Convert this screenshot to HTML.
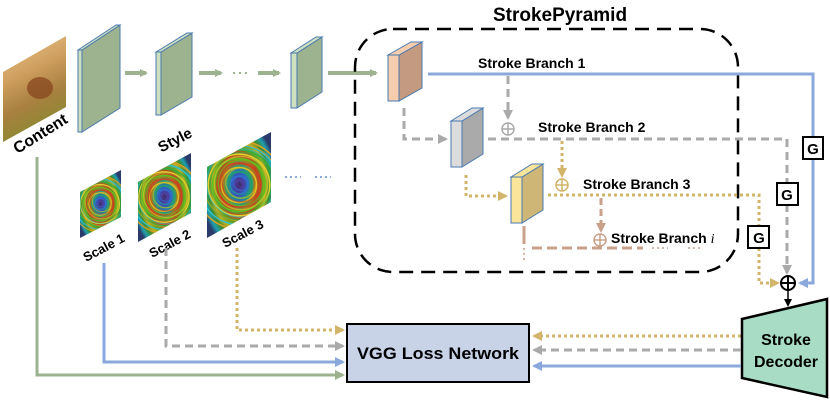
<!DOCTYPE html>
<html><head><meta charset="utf-8"><style>
html,body{margin:0;padding:0;background:#fff;}
svg{display:block;font-family:"Liberation Sans",Arial,sans-serif;font-weight:bold;}
</style></head><body>
<svg width="830" height="400" viewBox="0 0 830 400" xmlns="http://www.w3.org/2000/svg">
<defs>
<radialGradient id="sty" cx="50%" cy="50%" r="60%">
<stop offset="0" stop-color="#3a2a5a"/><stop offset="0.1" stop-color="#4a3a9a"/><stop offset="0.2" stop-color="#3060c0"/>
<stop offset="0.3" stop-color="#2a9a7a"/><stop offset="0.4" stop-color="#a08020"/><stop offset="0.5" stop-color="#c04a20"/>
<stop offset="0.6" stop-color="#60a020"/><stop offset="0.7" stop-color="#c0b020"/><stop offset="0.8" stop-color="#3a8a30"/>
<stop offset="0.9" stop-color="#20a0b0"/><stop offset="1" stop-color="#2a3a6a"/>
</radialGradient>
<linearGradient id="sq" x1="0" y1="0" x2="0.3" y2="1">
<stop offset="0" stop-color="#e8c890"/><stop offset="0.4" stop-color="#d0a060"/><stop offset="0.7" stop-color="#a88040"/><stop offset="1" stop-color="#8a8a30"/>
</linearGradient>
<clipPath id="c1"><polygon points="80,192 121,170 121,217 80,238"/></clipPath>
<clipPath id="c2"><polygon points="138,182 191,153 191,213 138,242"/></clipPath>
<clipPath id="c3"><polygon points="207,167 271,132 271,202 207,238"/></clipPath>
<g id="rings" fill="none" stroke-width="1.4">
<circle r="4" stroke="#5040a0"/><circle r="8" stroke="#3070d0"/><circle r="12" stroke="#20a070"/>
<circle r="16" stroke="#e0c020"/><circle r="20" stroke="#d04020"/><circle r="24" stroke="#60c020"/>
<circle r="28" stroke="#e0d030"/><circle r="32" stroke="#30b040"/><circle r="36" stroke="#30c0d0"/><circle r="40" stroke="#e0a020"/>
</g>
<marker id="ag" markerWidth="8" markerHeight="8" refX="6" refY="4" orient="auto" markerUnits="userSpaceOnUse"><path d="M0,0 L8,4 L0,8z" fill="#9db38f"/></marker>
<marker id="ab" markerWidth="10" markerHeight="10" refX="8" refY="5" orient="auto" markerUnits="userSpaceOnUse"><path d="M0,0 L10,5 L0,10z" fill="#8aa8dc"/></marker>
<marker id="agr" markerWidth="10" markerHeight="10" refX="8" refY="5" orient="auto" markerUnits="userSpaceOnUse"><path d="M0,0 L10,5 L0,10z" fill="#aaa"/></marker>
<marker id="ay" markerWidth="10" markerHeight="10" refX="8" refY="5" orient="auto" markerUnits="userSpaceOnUse"><path d="M0,0 L10,5 L0,10z" fill="#d2b46a"/></marker>
<marker id="abr" markerWidth="10" markerHeight="10" refX="8" refY="5" orient="auto" markerUnits="userSpaceOnUse"><path d="M0,0 L10,5 L0,10z" fill="#c9a08a"/></marker>
<marker id="agn" markerWidth="10" markerHeight="10" refX="8" refY="5" orient="auto" markerUnits="userSpaceOnUse"><path d="M0,0 L10,5 L0,10z" fill="#9db38f"/></marker>
<marker id="ak" markerWidth="8" markerHeight="8" refX="6" refY="4" orient="auto" markerUnits="userSpaceOnUse"><path d="M0,0 L8,4 L0,8z" fill="#000"/></marker>
</defs>

<polygon points="3,72 66,36 66,107 3,142" fill="url(#sq)"/>
<ellipse cx="40" cy="88" rx="13" ry="11" fill="#8a4a20" opacity="0.8"/>
<text x="40" y="139" font-size="16" text-anchor="middle" transform="rotate(-32 40 133)">Content</text>

<g stroke="#4a7ab0" stroke-width="1">
<polygon points="78,50 82,50 82,132 78,132" fill="#cde0c0"/>
<polygon points="82,50 120,25 120,108 82,132" fill="#9db38f"/>
<polygon points="78,50 116,25 120,25 82,50" fill="#cde0c0"/>
<polygon points="156,52 161,52 161,115 156,115" fill="#cde0c0"/>
<polygon points="161,52 192,33 192,97 161,115" fill="#9db38f"/>
<polygon points="156,52 187,33 192,33 161,52" fill="#cde0c0"/>
<polygon points="291,53 297,53 297,108 291,108" fill="#cde0c0"/>
<polygon points="297,53 322,37 322,92 297,108" fill="#9db38f"/>
<polygon points="291,53 316,37 322,37 297,53" fill="#cde0c0"/>
</g>
<g stroke="#9db38f" stroke-width="4" fill="none">
<line x1="125" y1="73" x2="146" y2="73" marker-end="url(#ag)"/>
<line x1="199" y1="73" x2="221" y2="73" marker-end="url(#ag)"/>
<line x1="258" y1="73" x2="279" y2="73" marker-end="url(#ag)"/>
<line x1="328" y1="73" x2="376" y2="73" marker-end="url(#ag)"/>
<line x1="233" y1="73" x2="248" y2="73" stroke-width="2" stroke-dasharray="2,4"/>
</g>

<polygon points="80,192 121,170 121,217 80,238" fill="url(#sty)"/>
<g clip-path="url(#c1)"><use href="#rings" transform="translate(100,204) scale(0.7)"/><use href="#rings" transform="translate(102,202) scale(0.6)" opacity="0.6"/></g>
<polygon points="138,182 191,153 191,213 138,242" fill="url(#sty)"/>
<g clip-path="url(#c2)"><use href="#rings" transform="translate(164,197) scale(0.9)"/><use href="#rings" transform="translate(166,195) scale(0.8)" opacity="0.6"/></g>
<polygon points="207,167 271,132 271,202 207,238" fill="url(#sty)"/>
<g clip-path="url(#c3)"><use href="#rings" transform="translate(239,185) scale(1.1)"/><use href="#rings" transform="translate(241,183) scale(0.95)" opacity="0.6"/></g>
<text x="175" y="145" font-size="15" text-anchor="middle" transform="rotate(-27 175 140)">Style</text>
<text x="104" y="252" font-size="13" text-anchor="middle" transform="rotate(-28 104 248)">Scale 1</text>
<text x="170" y="248" font-size="13" text-anchor="middle" transform="rotate(-28 170 244)">Scale 2</text>
<text x="243" y="238" font-size="13" text-anchor="middle" transform="rotate(-28 243 234)">Scale 3</text>
<g stroke="#8aa8dc" stroke-width="2" stroke-dasharray="2,3"><line x1="285" y1="177" x2="301" y2="177"/><line x1="315" y1="177" x2="331" y2="177"/></g>

<rect x="355" y="29" width="383" height="243" rx="38" fill="none" stroke="#000" stroke-width="2.5" stroke-dasharray="14,8"/>
<text x="560" y="21" font-size="19" text-anchor="middle">StrokePyramid</text>

<g stroke="#4a7ab0" stroke-width="1">
<polygon points="388,55 399,55 399,101 388,101" fill="#f7cdb0"/>
<polygon points="399,55 422,42 422,88 399,101" fill="#c49a80"/>
<polygon points="388,55 411,42 422,42 399,55" fill="#f7cdb0"/>
<polygon points="451,121 462,121 462,167 451,167" fill="#dcdcdc"/>
<polygon points="462,121 483,108 483,154 462,167" fill="#aaaaaa"/>
<polygon points="451,121 472,108 483,108 462,121" fill="#dcdcdc"/>
<polygon points="511,177 522,177 522,223 511,223" fill="#fbe59a"/>
<polygon points="522,177 543,164 543,210 522,223" fill="#cdb676"/>
<polygon points="511,177 532,164 543,164 522,177" fill="#fbe59a"/>
</g>

<polyline points="428,74 813,74 813,283 800,283" fill="none" stroke="#8aa8dc" stroke-width="3" marker-end="url(#ab)"/>
<text x="478" y="68" font-size="14">Stroke Branch 1</text>
<g stroke="#aaa" stroke-width="3" fill="none" stroke-dasharray="8,5">
<line x1="508" y1="76" x2="508" y2="118" marker-end="url(#agr)"/>
<polyline points="404,108 404,139 446,139" marker-end="url(#agr)"/>
<polyline points="488,139 787,139 787,273" marker-end="url(#agr)"/>
</g>
<circle cx="508" cy="129" r="6" fill="none" stroke="#aaa" stroke-width="1.5"/><path d="M502,129h12M508,123v12" stroke="#aaa" stroke-width="1.5"/>
<text x="538" y="132" font-size="14">Stroke Branch 2</text>
<g stroke="#d2b46a" stroke-width="3" fill="none" stroke-dasharray="3,3">
<line x1="562" y1="141" x2="562" y2="176" marker-end="url(#ay)"/>
<polyline points="466,175 466,196 506,196" marker-end="url(#ay)"/>
<polyline points="548,195 759,195 759,283 778,283" marker-end="url(#ay)"/>
<polyline points="237,248 237,330 343,330" marker-end="url(#ay)"/>
<line x1="741" y1="336" x2="534" y2="336" marker-end="url(#ay)"/>
</g>
<circle cx="562" cy="185" r="6" fill="none" stroke="#d2b46a" stroke-width="1.5"/><path d="M556,185h12M562,179v12" stroke="#d2b46a" stroke-width="1.5"/>
<text x="583" y="189" font-size="14">Stroke Branch 3</text>
<g stroke="#c9a08a" stroke-width="3" fill="none">
<line x1="601" y1="198" x2="601" y2="231" stroke-dasharray="7,4" marker-end="url(#abr)"/>
<line x1="524" y1="226" x2="524" y2="244"/>
<line x1="524" y1="248" x2="524" y2="260" stroke-width="1.5" stroke-dasharray="2,3"/>
<line x1="532" y1="248" x2="643" y2="248" stroke-dasharray="10,5"/>
<line x1="652" y1="248" x2="668" y2="248" stroke-width="1.5" stroke-dasharray="2,3"/>
<line x1="688" y1="248" x2="700" y2="248" stroke-width="1.5" stroke-dasharray="2,3"/>
</g>
<circle cx="600" cy="240" r="6" fill="#fff" stroke="#c9a08a" stroke-width="1.5"/><path d="M594,240h12M600,234v12" stroke="#c9a08a" stroke-width="1.5"/>
<text x="611" y="243" font-size="14">Stroke Branch <tspan font-family="Liberation Serif" font-style="italic" font-weight="normal">i</tspan></text>

<g font-size="15" text-anchor="middle">
<rect x="803" y="137" width="20" height="22" fill="#fff" stroke="#000" stroke-width="2"/><text x="813" y="154">G</text>
<rect x="777" y="183" width="21" height="22" fill="#fff" stroke="#000" stroke-width="2"/><text x="787" y="200">G</text>
<rect x="748" y="226" width="21" height="22" fill="#fff" stroke="#000" stroke-width="2"/><text x="759" y="243">G</text>
</g>
<circle cx="788" cy="283" r="7" fill="#fff" stroke="#000" stroke-width="2"/><path d="M781,283h14M788,276v14" stroke="#000" stroke-width="2"/>
<line x1="788" y1="290" x2="788" y2="305" stroke="#000" stroke-width="1.5" marker-end="url(#ak)"/>

<polygon points="742,319 827,299 827,397 742,378" fill="#a8dcc4" stroke="#000" stroke-width="2.5"/>
<text x="786" y="345" font-size="16" text-anchor="middle">Stroke</text>
<text x="786" y="367" font-size="16" text-anchor="middle">Decoder</text>

<rect x="347" y="324" width="182" height="58" fill="#c8d3e8" stroke="#000" stroke-width="2"/>
<text x="438" y="359" font-size="17" text-anchor="middle" textLength="162" lengthAdjust="spacingAndGlyphs">VGG Loss Network</text>

<polyline points="166,248 166,346 343,346" fill="none" stroke="#aaa" stroke-width="3" stroke-dasharray="8,5" marker-end="url(#agr)"/>
<polyline points="104,263 104,362 343,362" fill="none" stroke="#8aa8dc" stroke-width="3" marker-end="url(#ab)"/>
<polyline points="37,157 37,375 343,375" fill="none" stroke="#9db38f" stroke-width="3" marker-end="url(#agn)"/>
<line x1="741" y1="350" x2="534" y2="350" stroke="#aaa" stroke-width="3" stroke-dasharray="8,5" marker-end="url(#agr)"/>
<line x1="741" y1="366" x2="534" y2="366" stroke="#8aa8dc" stroke-width="3" marker-end="url(#ab)"/>
</svg>
</body></html>
